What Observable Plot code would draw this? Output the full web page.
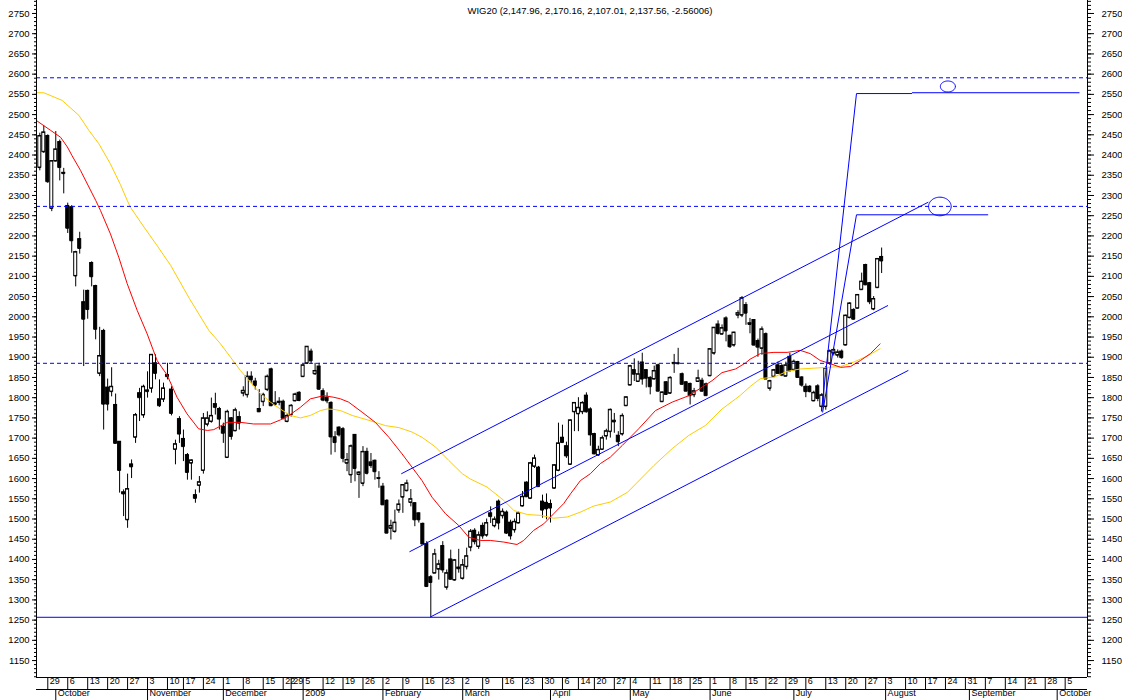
<!DOCTYPE html>
<html><head><meta charset="utf-8">
<script src="https://cdn.jsdelivr.net/npm/d3@7"></script>
<script src="https://cdn.jsdelivr.net/npm/@observablehq/plot@0.6"></script>
<style>
html,body{margin:0;padding:0;background:#fff;}
#chart svg{display:block;}
</style></head><body><div id="chart"></div>
<script>
// ---------- DATA ----------
const title = "WIG20 (2,147.96, 2,170.16, 2,107.01, 2,137.56, -2.56006)";
const calendarStart = "2008-09-22";
const calendarEnd = "2009-10-16";
const calendarOrigin = "2008-09-29";      // trading-day offset 0
const firstCandleDate = "2008-09-25";
const holidays = ["2008-11-11","2008-12-24","2008-12-25","2008-12-26","2009-01-01","2009-01-02","2009-04-10","2009-04-13","2009-05-01","2009-06-11"];
const monthNames = ["January","February","March","April","May","June","July","August","September","October","November","December"];
const xDomain = [-2.83, 260.6];           // visible trading-day window
const yDomain = [1108.1, 2782.1];
const yMajor = [1150,1200,1250,1300,1350,1400,1450,1500,1550,1600,1650,1700,1750,1800,1850,1900,1950,2000,2050,2100,2150,2200,2250,2300,2350,2400,2450,2500,2550,2600,2650,2700,2750];

const opens = [
2369,2408,2447,2268,2385,2432,2356,2274,2271,2101,
2192,2036,2064,2133,2076,1860,1965,1825,1815,1782,
1691,1566,1498,1635,1702,1811,1757,1815,1823,1885,
1796,1796,1856,1820,1672,1747,1698,1658,1638,1559,
1583,1620,1734,1741,1784,1772,1728,1652,1749,1718,
1752,1811,1807,1852,1840,1772,1790,1820,1870,1786,
1790,1790,1741,1757,1792,1812,1852,1885,1914,1859,
1877,1816,1800,1787,1702,1726,1722,1638,1609,1708,
1610,1588,1666,1640,1644,1601,1580,1545,1477,1469,
1522,1554,1570,1541,1539,1514,1488,1438,1356,1366,
1376,1433,1331,1400,1349,1380,1353,1382,1430,1471,
1432,1483,1460,1514,1483,1543,1508,1516,1491,1473,
1490,1532,1590,1551,1630,1627,1543,1540,1537,1576,
1620,1701,1680,1635,1765,1760,1765,1805,1771,1710,
1658,1672,1705,1716,1740,1706,1710,1780,1831,1868,
1840,1887,1868,1849,1846,1880,1790,1838,1811,1884,
1885,1858,1838,1834,1807,1840,1842,1833,1854,1910,
1981,1957,1996,1953,1930,2004,2004,2029,1984,1992,
1940,1922,1957,1823,1852,1880,1878,1853,1901,1869,
1888,1850,1827,1827,1792,1828,1778,1778,1885,1910,
1905,1914,1930,1998,2017,2021,2067,2128,2083,2019,
2072,2148];
const highs = [
2454,2472,2450,2386,2458,2437,2367,2281,2275,2162,
2209,2066,2066,2136,2078,1974,1969,1846,1874,1809,
1691,1572,1611,1646,1761,1823,1831,1864,1906,1906,
1844,1836,1885,1827,1695,1753,1720,1662,1646,1572,
1605,1761,1765,1799,1811,1776,1737,1769,1751,1774,
1765,1827,1864,1864,1848,1820,1811,1856,1873,1815,
1800,1794,1760,1783,1811,1815,1882,1926,1920,1885,
1885,1822,1812,1790,1716,1728,1726,1662,1683,1708,
1617,1679,1675,1662,1646,1617,1588,1548,1497,1522,
1547,1584,1596,1573,1540,1515,1490,1444,1360,1425,
1398,1444,1374,1423,1400,1425,1400,1428,1474,1476,
1468,1490,1500,1530,1505,1547,1525,1520,1497,1500,
1517,1568,1592,1640,1658,1630,1559,1562,1547,1634,
1737,1732,1690,1745,1787,1800,1790,1812,1775,1712,
1680,1705,1722,1772,1761,1716,1760,1802,1880,1896,
1890,1910,1869,1852,1878,1883,1814,1840,1852,1907,
1922,1861,1840,1836,1823,1868,1848,1836,1921,1973,
1990,1980,2000,1955,1962,2015,2050,2035,1996,1993,
1945,1975,1960,1843,1870,1888,1882,1888,1910,1893,
1890,1852,1834,1830,1816,1832,1810,1877,1918,1922,
1918,1918,2004,2035,2020,2054,2108,2130,2085,2050,
2144,2170];
const lows = [
2361,2404,2330,2260,2383,2336,2304,2206,2157,2074,
2155,1877,1994,2074,1943,1852,1720,1767,1802,1687,
1564,1506,1477,1600,1687,1741,1749,1799,1811,1844,
1776,1788,1844,1755,1634,1687,1642,1596,1596,1539,
1564,1611,1728,1737,1757,1720,1687,1650,1695,1716,
1720,1802,1799,1836,1819,1765,1778,1815,1778,1778,
1780,1745,1738,1752,1790,1790,1850,1882,1882,1855,
1818,1790,1785,1658,1664,1703,1639,1617,1588,1592,
1551,1580,1609,1625,1596,1576,1535,1464,1448,1465,
1514,1514,1567,1530,1481,1490,1438,1332,1257,1366,
1349,1366,1324,1349,1346,1366,1349,1374,1419,1436,
1425,1450,1455,1489,1478,1473,1500,1462,1448,1465,
1488,1530,1553,1550,1625,1578,1502,1498,1490,1574,
1617,1687,1650,1633,1716,1716,1758,1762,1680,1659,
1655,1670,1695,1700,1712,1679,1705,1779,1830,1840,
1838,1831,1824,1807,1844,1816,1788,1806,1808,1860,
1881,1832,1816,1782,1800,1838,1814,1805,1852,1905,
1955,1955,1938,1922,1925,1995,1998,1979,1958,1928,
1900,1905,1846,1816,1850,1858,1852,1852,1865,1866,
1848,1826,1800,1812,1790,1790,1766,1769,1880,1903,
1898,1895,1928,1995,1992,2020,2066,2077,2030,2015,
2070,2107];
const closes = [
2447,2456,2334,2385,2414,2369,2354,2219,2188,2160,
2169,1994,2018,2099,1969,1903,1784,1784,1827,1687,
1620,1562,1574,1629,1757,1800,1827,1818,1906,1860,
1780,1823,1852,1761,1685,1710,1679,1615,1645,1551,
1591,1749,1749,1755,1776,1747,1712,1765,1704,1769,
1737,1817,1852,1844,1830,1765,1807,1852,1780,1783,
1788,1749,1755,1780,1808,1793,1880,1926,1891,1866,
1821,1794,1792,1703,1689,1708,1650,1646,1680,1625,
1615,1666,1613,1632,1617,1600,1535,1465,1483,1491,
1536,1584,1588,1549,1498,1498,1438,1333,1343,1413,
1388,1374,1366,1351,1398,1377,1386,1408,1469,1444,
1460,1458,1490,1506,1499,1490,1518,1465,1458,1493,
1514,1555,1555,1638,1650,1580,1522,1525,1527,1633,
1687,1689,1656,1744,1787,1775,1787,1765,1708,1661,
1671,1700,1717,1770,1743,1691,1755,1801,1878,1858,
1858,1846,1848,1827,1866,1816,1813,1808,1849,1886,
1884,1833,1816,1805,1816,1848,1816,1805,1920,1973,
1959,1972,1965,1926,1961,2009,2046,2009,1981,1930,
1925,1969,1846,1841,1868,1860,1856,1880,1866,1889,
1850,1831,1815,1815,1812,1798,1806,1873,1915,1918,
1912,1899,2003,2033,1994,2054,2087,2079,2037,2044,
2143,2138];

// moving averages: [trading-day offset, value]
const redMA = [[-2.66,2484],[0.7,2461],[3.2,2444],[4.9,2420],[6.1,2398],[8.2,2362],[10.3,2321],[12.0,2288],[13.2,2263],[15.7,2205],[17.8,2147],[19.9,2082],[22.4,2016],[24.9,1958],[27.4,1892],[29.9,1856],[32.4,1801],[34.9,1760],[37.8,1723],[40.0,1719],[41.6,1721],[45.0,1739],[48.3,1739],[51.6,1735],[55.8,1735],[58.3,1745],[60.0,1753],[63.3,1776],[65.8,1797],[69.2,1805],[71.7,1801],[73.4,1797],[75.4,1789],[78.8,1764],[82.1,1739],[85.5,1702],[88.8,1661],[91.3,1628],[93.8,1595],[96.3,1554],[99.7,1513],[103.0,1484],[105.5,1455],[108.4,1447],[110.9,1447],[114.3,1443],[117.6,1437],[119.3,1447],[121.8,1472],[124.3,1488],[126.8,1513],[129.3,1538],[131.0,1562],[133.5,1595],[136.0,1612],[138.5,1637],[141.0,1653],[144.0,1682],[148.1,1723],[152.3,1768],[156.5,1789],[160.7,1805],[164.0,1826],[166.5,1842],[169.0,1862],[172.4,1871],[174.9,1886],[176.0,1895],[178.6,1909],[182.0,1912],[185.3,1912],[188.6,1917],[191.1,1909],[193.6,1892],[196.2,1884],[198.7,1875],[201.2,1877],[203.7,1892],[206.2,1909],[208.6,1933]];
const yellowMA = [[-2.66,2554],[-1.0,2554],[3.6,2535],[7.8,2498],[10.3,2461],[12.8,2428],[15.7,2378],[18.2,2327],[19.9,2288],[20.7,2271],[24.1,2222],[27.4,2176],[30.8,2127],[35.5,2045],[40.4,1966],[43.3,1933],[45.8,1900],[48.3,1867],[50.8,1838],[53.3,1810],[55.8,1789],[58.3,1772],[60.8,1756],[63.3,1750],[65.8,1756],[68.3,1768],[70.0,1772],[71.7,1771],[73.4,1768],[76.3,1756],[80.5,1744],[84.6,1731],[88.0,1726],[91.3,1715],[93.8,1702],[97.2,1678],[100.5,1645],[103.9,1612],[105.9,1599],[110.1,1579],[114.3,1546],[116.8,1521],[120.2,1511],[123.5,1509],[126.8,1502],[130.2,1505],[133.5,1517],[136.8,1532],[141.0,1542],[145.3,1566],[151.9,1632],[156.5,1674],[160.7,1707],[164.8,1731],[169.0,1772],[172.4,1797],[173.6,1806],[176.1,1828],[178.6,1847],[182.0,1851],[185.3,1865],[188.6,1871],[192.0,1873],[195.3,1875],[198.7,1877],[202.0,1888],[205.4,1903],[208.6,1921]];

// drawn trend lines: [x1, y1, x2, y2] in trading-day offset / index points
const trendLines = [
  [88.6,1611.8,220.7,2283.4],
  [90.65,1418.9,210.6,2028.0],
  [95.8,1257.2,215.7,1867.5],
  [193.9,1765.8,202.7,2552.0],
  [202.7,2552.0,216.6,2552.0],
  [216.6,2554.0,258.6,2554.0],
  [194.2,1763.4,202.7,2252.2],
  [202.7,2252.2,235.7,2252.2]
];
const dashedLevels = [2591, 2273, 1885];
const solidLevels = [1257];
// target ellipses: centre x, centre y, radius x (days), radius y (points)
const ellCx = [225.6, 223.6];
const ellCy = [2569.5, 2272.8];
const ellRx = [1.88, 2.83];
const ellRy = [13.6, 23.0];

// ---------- BUILD ----------
const parse = d3.utcParse("%Y-%m-%d"), fmt = d3.utcFormat("%Y-%m-%d");
const tradingDays = d3.utcDays(parse(calendarStart), d3.utcDay.offset(parse(calendarEnd), 1))
  .filter(d => d.getUTCDay() !== 0 && d.getUTCDay() !== 6 && !holidays.includes(fmt(d)));
const origin = tradingDays.findIndex(d => fmt(d) === calendarOrigin);
const cal = tradingDays.map((date, k) => ({date, i: k - origin}));
const c0 = tradingDays.findIndex(d => fmt(d) === firstCandleDate) - origin;
const candles = opens.map((o, j) => ({i: c0 + j, open: o, high: highs[j], low: lows[j], close: closes[j]}));
const up = candles.filter(d => d.close >= d.open);
const down = candles.filter(d => d.close < d.open);

const weeks = cal.filter((d, k) => k > 0 && +d3.utcMonday.floor(d.date) !== +d3.utcMonday.floor(cal[k-1].date))
  .filter(d => d.i >= 0 && d.i <= xDomain[1] - 2)
  .map(d => ({i: d.i, label: String(d.date.getUTCDate())}));
const months = cal.filter((d, k) => k > 0 && d.date.getUTCMonth() !== cal[k-1].date.getUTCMonth())
  .filter(d => d.i >= xDomain[0] && d.i <= xDomain[1])
  .map(d => ({i: d.i, label: d.date.getUTCMonth() === 0 ? String(d.date.getUTCFullYear()) : monthNames[d.date.getUTCMonth()]}));

const yMinor = d3.range(1110, 2781, 10);
const ellipsePts = [];
ellCx.forEach((cx, k) => {
  for (let s = 0; s < 60; s++) {
    const t = s / 60 * 2 * Math.PI;
    ellipsePts.push({k, x: cx + ellRx[k] * Math.cos(t), y: ellCy[k] + ellRy[k] * Math.sin(t)});
  }
});

const blue = "#0000ff";
const hw = 0.38;

const chart = Plot.plot({
  width: 1122, height: 700,
  marginLeft: 36, marginRight: 35, marginTop: 0, marginBottom: 23,
  x: {type: "linear", domain: xDomain},
  y: {type: "linear", domain: yDomain},
  style: {background: "#fff", fontFamily: "'Liberation Sans', Arial, sans-serif", fontSize: "9.5px", color: "#000", overflow: "visible"},
  marks: [
    // candles
    Plot.ruleX(candles, {x: "i", y1: "low", y2: "high", stroke: "#000", strokeWidth: 1}),
    Plot.rect(up, {x1: d => d.i - hw, x2: d => d.i + hw, y1: "open", y2: "close", fill: "#fff", stroke: "#000", strokeWidth: 1}),
    Plot.rect(down, {x1: d => d.i - hw, x2: d => d.i + hw, y1: "open", y2: "close", fill: "#000", stroke: "#000", strokeWidth: 1}),
    Plot.ruleY(candles, {y: "open", x1: d => d.i - hw, x2: d => d.i + hw, stroke: "#000"}),
    Plot.ruleY(candles, {y: "close", x1: d => d.i - hw, x2: d => d.i + hw, stroke: "#000"}),
    // moving averages
    Plot.line(yellowMA, {x: d => d[0], y: d => d[1], stroke: "#ffcc00", strokeWidth: 1}),
    Plot.line(redMA, {x: d => d[0], y: d => d[1], stroke: "#ff0000", strokeWidth: 1}),
    // levels and drawn lines
    Plot.ruleY(dashedLevels, {stroke: blue, strokeDasharray: "4,3", strokeWidth: 1}),
    Plot.ruleY(solidLevels, {stroke: blue, strokeWidth: 1}),
    Plot.link(trendLines, {x1: d => d[0], y1: d => d[1], x2: d => d[2], y2: d => d[3], stroke: blue, strokeWidth: 1}),
    Plot.line(ellipsePts, {x: "x", y: "y", z: "k", stroke: blue, strokeWidth: 1, curve: "linear-closed"}),
    // frame
    Plot.ruleX([xDomain[0], xDomain[1]], {stroke: "#000"}),
    Plot.ruleY([yDomain[0]], {stroke: "#000"}),
    Plot.ruleY([yDomain[0]], {stroke: "#000", dy: 12}),
    // y axes
    Plot.axisY({anchor: "left", ticks: yMajor, tickSize: 4, tickPadding: 3, tickFormat: d => String(d), fontSize: 9.5, label: null}),
    Plot.axisY({anchor: "left", ticks: yMinor, tickSize: 2, tickFormat: () => "", label: null}),
    Plot.axisY({anchor: "right", ticks: yMajor, tickSize: 6, tickPadding: 8, tickFormat: d => String(d), fontSize: 9.5, label: null}),
    Plot.axisY({anchor: "right", ticks: yMinor, tickSize: 3, tickFormat: () => "", label: null}),
    // date rows
    Plot.axisX({anchor: "bottom", ticks: weeks.map(d => d.i), tickSize: 12, tickFormat: () => "", label: null}),
    Plot.text(weeks, {x: "i", text: "label", frameAnchor: "bottom", dy: 6.5, dx: 2, textAnchor: "start", fontSize: 9}),
    Plot.axisX({anchor: "bottom", ticks: months.map(d => d.i), tickSize: 11, dy: 12, tickFormat: () => "", label: null}),
    Plot.text(months, {x: "i", text: "label", frameAnchor: "bottom", dy: 18.5, dx: 2, textAnchor: "start", fontSize: 9}),
    // title
    Plot.text([title], {text: d => d, frameAnchor: "top", dy: 7, dx: 28, fontSize: 9.5})
  ]
});
document.getElementById("chart").appendChild(chart);
</script>
</body></html>
